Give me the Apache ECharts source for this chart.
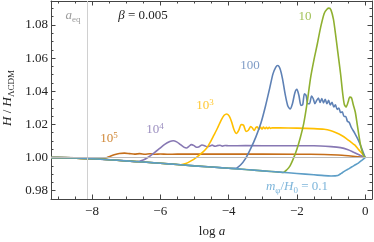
<!DOCTYPE html>
<html><head><meta charset="utf-8">
<script src="https://cdn.jsdelivr.net/npm/echarts@6/dist/echarts.min.js"></script>
<style>html,body{margin:0;padding:0;background:#fff}#c{width:374px;height:242px}</style>
</head><body><div id="c"></div>
<script>
// ---- data (log a, H/H_LCDM) ----
var xLabels = [-8, -6, -4, -2, 0];
var xMinorTicks = [-9, -8.5, -8, -7.5, -7, -6.5, -6, -5.5, -5, -4.5, -4, -3.5, -3, -2.5, -2, -1.5, -1, -0.5, 0];
var yLabels = [0.98, 1.00, 1.02, 1.04, 1.06, 1.08];
var yMinorTicks = [0.98, 0.985, 0.99, 0.995, 1.0, 1.005, 1.01, 1.015, 1.02, 1.025, 1.03, 1.035, 1.04, 1.045, 1.05, 1.055, 1.06, 1.065, 1.07, 1.075, 1.08, 1.085, 1.09];
var aEq = -8.13;

var m0p1 = [[-9.2,1.0],[-9,1.0],[-8.5,0.9998],[-8,0.9993],[-7.5,0.9987],[-7,0.998],[-6.5,0.9973],[-6,0.9966],[-5.5,0.9958],[-5,0.995],[-4.5,0.9943],[-4,0.9936],[-3.5,0.9928],[-3,0.992],[-2.5,0.9912],[-2,0.9904],[-1.5,0.9896],[-1.2,0.9891],[-1.0,0.9889],[-0.8,0.9892],[-0.7,0.9905],[-0.6,0.9918],[-0.5,0.993],[-0.4,0.9943],[-0.3,0.9955],[-0.2,0.9967],[-0.1,0.9983],[0,1.0]];

var m10 = [[-9.2,1.0],[-9,1.0],[-8,0.9993],[-7,0.998],[-6,0.9966],[-5,0.995],[-4,0.9936],[-3,0.992],[-2.5,0.9912],[-2.4,0.991],[-2.3,0.9925],[-2.2,0.995],[-2.1,0.9995],[-2.0,1.005],[-1.9,1.012],[-1.8,1.0205],[-1.7,1.033],[-1.6,1.048],[-1.5,1.059],[-1.4,1.0687],[-1.3,1.079],[-1.2,1.087],[-1.12,1.0895],[-1.06,1.0902],[-1.0,1.089],[-0.93,1.0835],[-0.87,1.0748],[-0.8,1.0635],[-0.72,1.0505],[-0.66,1.039],[-0.61,1.032],[-0.56,1.0305],[-0.5,1.0335],[-0.45,1.0365],[-0.4,1.036],[-0.35,1.032],[-0.29,1.0275],[-0.24,1.021],[-0.19,1.0142],[-0.14,1.008],[-0.1,1.0045],[-0.05,1.0015],[0,1.0]];

var m100 = [[-9.2,1.0],[-9,1.0],[-8,0.9993],[-7,0.998],[-6,0.9966],[-5,0.995],[-4,0.9936],[-3.8,0.9935],[-3.65,0.9955],[-3.5,0.9995],[-3.35,1.0055],[-3.2,1.0125],[-3.05,1.021],[-2.92,1.031],[-2.8,1.0415],[-2.7,1.0505],[-2.62,1.0545],[-2.56,1.0556],[-2.49,1.0535],[-2.42,1.0475],[-2.35,1.039],[-2.27,1.0315],[-2.2,1.0293],[-2.13,1.0325],[-2.06,1.039],[-2.0,1.0412],[-1.94,1.0375],[-1.88,1.0315],[-1.83,1.0318],[-1.78,1.0385],[-1.73,1.0375],[-1.68,1.0325],[-1.63,1.0325],[-1.57,1.0372],[-1.52,1.0355],[-1.47,1.0325],[-1.42,1.0345],[-1.37,1.036],[-1.32,1.0332],[-1.27,1.0357],[-1.22,1.033],[-1.17,1.0352],[-1.12,1.0325],[-1.07,1.0345],[-1.02,1.0317],[-0.97,1.0333],[-0.92,1.0305],[-0.87,1.0318],[-0.82,1.029],[-0.77,1.0299],[-0.72,1.0272],[-0.67,1.0276],[-0.62,1.0248],[-0.57,1.0248],[-0.52,1.0219],[-0.47,1.0213],[-0.4,1.018],[-0.3,1.0145],[-0.2,1.0105],[-0.1,1.0055],[0,1.0]];

var m1e3 = [[-9.2,1.0],[-9,1.0],[-8,0.9993],[-7,0.998],[-6,0.9966],[-5.5,0.9958],[-5.4,0.9957],[-5.25,0.9964],[-5.1,0.998],[-4.95,1.0],[-4.8,1.0025],[-4.65,1.0055],[-4.53,1.0095],[-4.43,1.0135],[-4.32,1.018],[-4.22,1.0225],[-4.13,1.0255],[-4.05,1.0263],[-3.98,1.025],[-3.91,1.0215],[-3.84,1.0168],[-3.77,1.0145],[-3.7,1.0165],[-3.63,1.02],[-3.56,1.0195],[-3.49,1.0158],[-3.42,1.0165],[-3.35,1.0188],[-3.3,1.0178],[-3.25,1.0163],[-3.2,1.0182],[-3.16,1.0185],[-3.11,1.017],[-3.07,1.0184],[-3.02,1.0172],[-2.98,1.0184],[-2.93,1.0174],[-2.89,1.0183],[-2.85,1.0175],[-2.81,1.0182],[-2.77,1.0176],[-2.73,1.018],[-2.5,1.0179],[-2.0,1.0178],[-1.5,1.0175],[-1.2,1.0171],[-1.0,1.0162],[-0.85,1.015],[-0.7,1.0135],[-0.55,1.0115],[-0.4,1.009],[-0.3,1.0075],[-0.2,1.005],[-0.1,1.0027],[0,1.0]];

var m1e4 = [[-9.2,1.0],[-9,1.0],[-8,0.9993],[-7,0.998],[-6.7,0.9975],[-6.5,0.9985],[-6.33,1.0005],[-6.17,1.003],[-6.02,1.0055],[-5.87,1.008],[-5.72,1.0097],[-5.62,1.0102],[-5.52,1.0095],[-5.42,1.008],[-5.31,1.0063],[-5.23,1.0058],[-5.16,1.0068],[-5.09,1.0078],[-5.01,1.0072],[-4.94,1.0062],[-4.86,1.0066],[-4.78,1.0076],[-4.7,1.0072],[-4.63,1.0065],[-4.55,1.007],[-4.48,1.0075],[-4.4,1.0068],[-4.33,1.0072],[-4.25,1.0074],[-4.18,1.0069],[-4.1,1.0073],[-4.0,1.0071],[-3.5,1.0072],[-2.5,1.0071],[-1.5,1.0071],[-1.0,1.0066],[-0.72,1.006],[-0.5,1.0047],[-0.34,1.0032],[-0.15,1.0014],[0,1.0]];

var m1e5 = [[-9.2,1.0],[-9,1.0],[-8.5,0.9998],[-7.8,0.9991],[-7.7,0.9992],[-7.6,0.9997],[-7.48,1.0007],[-7.35,1.0017],[-7.2,1.0025],[-7.05,1.0027],[-6.9,1.0024],[-6.75,1.0021],[-6.6,1.0024],[-6.45,1.002],[-6.3,1.0023],[-6.15,1.002],[-6.0,1.0022],[-5.8,1.002],[-5.5,1.0021],[-4.0,1.0021],[-2.0,1.002],[-1.2,1.0019],[-0.8,1.0016],[-0.5,1.0011],[-0.22,1.0005],[0,1.0]];

// ---- styling ----
var SERIF = "'Liberation Serif','DejaVu Serif',serif";
var AX = '#444';
var XMIN = -9.2, XMAX = 0.2, YMIN = 0.975, YMAX = 1.0945;
var C = {m0p1:'#5D9EC7', m10:'#8FB030', m100:'#5E81B5', m1e3:'#FFBF00', m1e4:'#8778B3', m1e5:'#C56E1A'};

function xAx(pos, withLabel, tickVals, len, showLine) {
  return {type:'value', gridIndex:0, position:pos, min:XMIN, max:XMAX,
    axisLine:{show:showLine, onZero:false, lineStyle:{color:AX, width:1}},
    splitLine:{show:false},
    axisTick:{show:true, inside:true, length:len, customValues:tickVals, lineStyle:{color:AX}},
    axisLabel:{show:withLabel, customValues:xLabels, margin:6, color:'#222', fontFamily:SERIF, fontSize:13,
      formatter:function(v){return v<0 ? '\u2212'+Math.abs(v) : String(v);}}};
}
function yAx(pos, withLabel, tickVals, len, showLine) {
  return {type:'value', gridIndex:0, position:pos, min:YMIN, max:YMAX,
    axisLine:{show:showLine, onZero:false, lineStyle:{color:AX, width:1}},
    splitLine:{show:false},
    axisTick:{show:true, inside:true, length:len, customValues:tickVals, lineStyle:{color:AX}},
    axisLabel:{show:withLabel, customValues:yLabels, margin:3, color:'#222', fontFamily:SERIF, fontSize:13,
      formatter:function(v){return v.toFixed(2);}}};
}
function line(name, data, color) {
  return {name:name, type:'line', data:data, xAxisIndex:0, yAxisIndex:0, showSymbol:false, symbol:'none',
    smooth:0.25, lineStyle:{color:color, width:1.6}, silent:true, z:3};
}

var chart = echarts.init(document.getElementById('c'), null, {renderer:'canvas'});
var refLines = {type:'line', data:[], xAxisIndex:0, yAxisIndex:0, silent:true, z:1,
  markLine:{silent:true, symbol:'none', label:{show:false}, animation:false,
    data:[{xAxis:aEq, lineStyle:{color:'#d0d0d0', width:1, type:'solid'}},
          {yAxis:1.0, lineStyle:{color:'#bdbdbd', width:1, type:'solid'}}]}};

var sub = {fontSize:9, fontFamily:SERIF, padding:[7,0,0,0]};
var sup = {fontSize:9, fontFamily:SERIF, padding:[0,0,7,0]};
function txt(x, y, text, rich, color, rot, align) {
  var r = {};
  for (var k in rich) { r[k] = Object.assign({fill:color, fontFamily:SERIF}, rich[k]); }
  return {type:'text', x:x, y:y, rotation:rot||0, silent:true, z:10,
    style:{text:text, rich:r, fill:color, fontFamily:SERIF, fontSize:13, align:align||'center', verticalAlign:'middle'}};
}

chart.setOption({
  animation:false,
  grid:{left:51, right:2, top:1, bottom:43, containLabel:false, outerBoundsMode:'none'},
  xAxis:[ xAx('bottom', true, xMinorTicks, 2.5, true), xAx('bottom', false, xLabels, 4.5, false),
          xAx('top', false, xMinorTicks, 2.5, true), xAx('top', false, xLabels, 4.5, false) ],
  yAxis:[ yAx('left', true, yMinorTicks, 2.5, true), yAx('left', false, yLabels, 4.5, false),
          yAx('right', false, yMinorTicks, 2.5, true), yAx('right', false, yLabels, 4.5, false) ],
  series:[ refLines,
    line('1e5', m1e5, C.m1e5), line('1e4', m1e4, C.m1e4), line('1e3', m1e3, C.m1e3),
    line('100', m100, C.m100), line('10', m10, C.m10), line('0.1', m0p1, C.m0p1) ],
  graphic:[
    txt(73, 16, '{i|a}{s|eq}', {i:{fontStyle:'italic', fontSize:13}, s:sub}, '#9a9a9a'),
    txt(143, 16, '{i|β}{n| = 0.005}', {i:{fontStyle:'italic', fontSize:13}, n:{fontSize:13}}, '#222'),
    txt(305, 17, '{n|10}', {n:{fontSize:13}}, '#A3C25A'),
    txt(250, 66, '{n|100}', {n:{fontSize:13}}, '#7F9CC6'),
    txt(205, 106, '{n|10}{s|3}', {n:{fontSize:13}, s:sup}, '#FFC832'),
    txt(155, 130, '{n|10}{s|4}', {n:{fontSize:13}, s:sup}, '#9C8FC0'),
    txt(109, 139, '{n|10}{s|5}', {n:{fontSize:13}, s:sup}, '#D08838'),
    txt(297, 187, '{i|m}{s|φ}{n|/}{i|H}{s|0}{n| = 0.1}', {i:{fontStyle:'italic', fontSize:13}, n:{fontSize:13}, s:sub}, '#7DB5DA'),
    txt(212, 232, '{n|log }{i|a}', {i:{fontStyle:'italic', fontSize:13}, n:{fontSize:13}}, '#222'),
    txt(8, 98, '{i|H}{n| / }{i|H}{s|ΛCDM}', {i:{fontStyle:'italic', fontSize:13}, n:{fontSize:13}, s:sub}, '#222', Math.PI/2)
  ]
});
</script></body></html>
